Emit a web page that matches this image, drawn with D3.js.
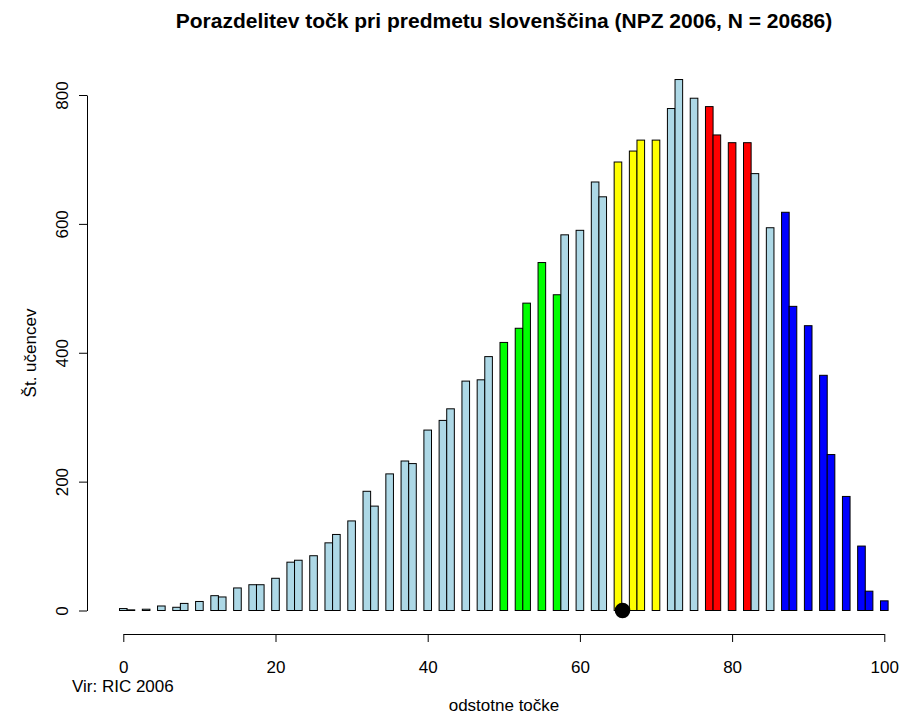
<!DOCTYPE html>
<html>
<head>
<meta charset="utf-8">
<script src="https://cdn.jsdelivr.net/npm/d3@7"></script>
<style>
  html, body { margin: 0; padding: 0; background: #fff; }
  svg { display: block; }
  text { font-family: "Liberation Sans", Arial, Helvetica, sans-serif; fill: #000; }
</style>
</head>
<body>
<svg id="chart" width="901" height="716"></svg>
<script>
// ---- data ----
const titleText = "Porazdelitev točk pri predmetu slovenščina (NPZ 2006, N = 20686)";
const xLabel = "odstotne točke";
const yLabel = "Št. učencev";
const sourceText = "Vir: RIC 2006";

const percents = [0,1,3,5,7,8,10,12,13,15,17,18,20,22,23,25,27,28,30,32,33,35,37,38,40,42,43,45,47,48,
                  50,52,53,55,57,58,60,62,63,65,67,68,70,72,73,75,77,78,80,82,83,85,87,88,90,92,93,95,97,98,100];
const counts = [3,1,2,7,5,11,14,23,21,35,40,40,50,75,78,85,105,118,139,185,162,212,232,228,280,295,313,356,358,394,
                416,438,477,540,490,583,590,665,642,696,713,730,730,779,824,795,782,738,726,726,678,594,618,472,442,365,242,177,100,30,15];

// grade bands (percent ranges) and their colours
const bandFrom = [50, 65, 77, 87];
const bandTo = [57, 70, 82, 100];
const bandColors = ["#00FF00", "#FFFF00", "#FF0000", "#0000FF"];
const baseColor = "#ADD8E6";

const meanValue = 65.6;
const xTicks = [0, 20, 40, 60, 80, 100];
const yTicks = [0, 200, 400, 600, 800];

// ---- layout ----
const svg = d3.select("#chart");
const x = d3.scaleLinear().domain([0, 100]).range([123.3, 884.3]);
const y = d3.scaleLinear().domain([0, 800]).range([610.5, 95]);

function colorFor(p) {
  for (let i = 0; i < bandFrom.length; i++) {
    if (p >= bandFrom[i] && p <= bandTo[i]) return bandColors[i];
  }
  return baseColor;
}

const data = percents.map((p, i) => ({ p, v: counts[i] }));

// bars
svg.append("g").selectAll("rect")
  .data(data)
  .join("rect")
  .attr("x", d => x(d.p - 0.5))
  .attr("width", x(1) - x(0))
  .attr("y", d => y(d.v))
  .attr("height", d => y(0) - y(d.v))
  .attr("fill", d => colorFor(d.p))
  .attr("stroke", "#000")
  .attr("stroke-width", 1);

// mean point
svg.append("circle")
  .attr("cx", x(meanValue))
  .attr("cy", y(0))
  .attr("r", 7.8)
  .attr("fill", "#000");

// x axis
const xAxisG = svg.append("g")
  .attr("transform", "translate(0,634)")
  .call(d3.axisBottom(x).tickValues(xTicks).tickSize(8).tickSizeOuter(0).tickFormat(d3.format("d")));
xAxisG.select(".domain").attr("stroke", "#000");
xAxisG.selectAll(".tick line").attr("stroke", "#000");
xAxisG.selectAll(".tick text")
  .attr("y", 39)
  .attr("dy", null)
  .style("font-size", "17px")
  .style("font-family", "Liberation Sans, Arial, sans-serif");

// y axis
const yAxisG = svg.append("g")
  .attr("transform", "translate(87,0)")
  .call(d3.axisLeft(y).tickValues(yTicks).tickSize(8).tickSizeOuter(0).tickFormat(d3.format("d")));
yAxisG.select(".domain").attr("stroke", "#000");
yAxisG.selectAll(".tick line").attr("stroke", "#000");
yAxisG.selectAll(".tick text")
  .attr("x", null).attr("dy", null)
  .attr("text-anchor", "middle")
  .attr("transform", "translate(-19,0) rotate(-90)")
  .style("font-size", "17px")
  .style("font-family", "Liberation Sans, Arial, sans-serif");

// title
svg.append("text")
  .attr("x", 504).attr("y", 28)
  .attr("text-anchor", "middle")
  .style("font-size", "21px")
  .style("font-weight", "bold")
  .text(titleText);

// x label
svg.append("text")
  .attr("x", 504).attr("y", 711)
  .attr("text-anchor", "middle")
  .style("font-size", "17px")
  .text(xLabel);

// y label
svg.append("text")
  .attr("transform", "translate(36,353) rotate(-90)")
  .attr("text-anchor", "middle")
  .style("font-size", "17px")
  .text(yLabel);

// source
svg.append("text")
  .attr("x", 72).attr("y", 692)
  .style("font-size", "17px")
  .text(sourceText);
</script>
</body>
</html>
